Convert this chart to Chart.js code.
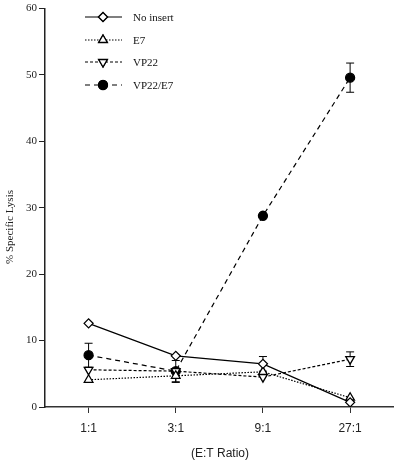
<!DOCTYPE html>
<html>
<head>
<meta charset="utf-8">
<script src="https://cdn.jsdelivr.net/npm/chart.js@4.4.1/dist/chart.umd.min.js"></script>
<style>
html,body{margin:0;padding:0;background:#fff;}
#wrap{width:400px;height:465px;position:relative;}
</style>
</head>
<body>
<div id="wrap"><canvas id="c" width="400" height="465"></canvas></div>
<script>
const categories = ["1:1", "3:1", "9:1", "27:1"];
const seriesNames = ["No insert", "E7", "VP22", "VP22/E7"];
const noInsert = [12.6, 7.7, 6.5, 0.7];
const e7 = [4.1, 4.7, 5.3, 1.4];
const vp22 = [5.6, 5.4, 4.5, 7.2];
const vp22e7 = [7.8, 5.4, 28.8, 49.6];
const noInsertErr = [0, 0, 1.1, 0];
const e7Err = [0, 1.0, 0, 0];
const vp22Err = [0, 0, 0, 1.1];
const vp22e7Err = [1.8, 1.6, 0, 2.2];
const yTicks = [0, 10, 20, 30, 40, 50, 60];
const xTitle = "(E:T Ratio)";
const yTitle = "% Specific Lysis";

const serif = "'Liberation Serif', 'DejaVu Serif', serif";
const sans = "'Liberation Sans', Arial, sans-serif";

const errorBars = {
  id: 'errorBars',
  beforeDatasetsDraw(chart) {
    const ctx = chart.ctx, ys = chart.scales.y, xs = chart.scales.x;
    ctx.save();
    ctx.strokeStyle = '#000';
    ctx.lineWidth = 1;
    chart.data.datasets.forEach(ds => {
      (ds.errors || []).forEach((e, i) => {
        if (!e) return;
        const x = xs.getPixelForValue(i);
        const yt = ys.getPixelForValue(ds.data[i] + e);
        const yb = ys.getPixelForValue(ds.data[i] - e);
        ctx.beginPath();
        ctx.moveTo(x, yt); ctx.lineTo(x, yb);
        ctx.moveTo(x - 4, yt); ctx.lineTo(x + 4, yt);
        ctx.moveTo(x - 4, yb); ctx.lineTo(x + 4, yb);
        ctx.stroke();
      });
    });
    ctx.restore();
  }
};

const customLegend = {
  id: 'customLegend',
  afterDraw(chart) {
    const ctx = chart.ctx;
    const ys = [17, 40, 62, 85];
    ctx.save();
    chart.data.datasets.forEach((ds, k) => {
      const y = ys[k];
      ctx.strokeStyle = '#000';
      ctx.lineWidth = ds.borderWidth;
      ctx.setLineDash(ds.borderDash || []);
      ctx.beginPath();
      ctx.moveTo(85, y); ctx.lineTo(122, y);
      ctx.stroke();
      ctx.setLineDash([]);
      Chart.helpers.drawPoint(ctx, {
        pointStyle: ds.pointStyle,
        rotation: ds.pointRotation || 0,
        radius: ds.pointRadius,
        borderWidth: ds.pointBorderWidth
      }, 103, y);
      ctx.fillStyle = ds.pointBackgroundColor;
      ctx.strokeStyle = '#000';
      ctx.lineWidth = ds.pointBorderWidth;
      ctx.fill();
      ctx.stroke();
      ctx.fillStyle = '#111';
      ctx.font = "11px " + serif;
      ctx.textBaseline = 'middle';
      ctx.textAlign = 'left';
      ctx.fillText(ds.label, 133, y + 1);
    });
    // y title
    ctx.save();
    ctx.translate(10, 227);
    ctx.rotate(-Math.PI / 2);
    ctx.font = "11px " + serif;
    ctx.fillStyle = '#222';
    ctx.textAlign = 'center';
    ctx.textBaseline = 'middle';
    ctx.fillText(yTitle, 0, 0);
    ctx.restore();
    // x title
    ctx.font = "12px " + sans;
    ctx.fillStyle = '#222';
    ctx.textAlign = 'center';
    ctx.textBaseline = 'middle';
    ctx.fillText(xTitle, 220, 454);
    ctx.restore();
  }
};

function mk(label, data, errors, style, rot, fill, dash, radius) {
  return {
    label, data, errors,
    borderColor: '#000', borderWidth: 1.2, borderDash: dash,
    pointStyle: style, pointRotation: rot, pointRadius: radius,
    pointBackgroundColor: fill, pointBorderColor: '#000', pointBorderWidth: 1.3,
    pointHoverRadius: radius, fill: false, tension: 0
  };
}

new Chart(document.getElementById('c'), {
  type: 'line',
  data: {
    labels: categories,
    datasets: [
      mk(seriesNames[0], noInsert, noInsertErr, 'rectRot', 0, '#fff', [], 4.5),
      mk(seriesNames[1], e7, e7Err, 'triangle', 0, '#fff', [1.5, 1.5], 5),
      mk(seriesNames[2], vp22, vp22Err, 'triangle', 180, '#fff', [3, 2], 5),
      mk(seriesNames[3], vp22e7, vp22e7Err, 'circle', 0, '#000', [5, 4], 4.5)
    ]
  },
  options: {
    responsive: false,
    animation: false,
    events: [],
    layout: { padding: { top: 6, right: 4, left: 0, bottom: 0 } },
    plugins: { legend: { display: false }, tooltip: { enabled: false } },
    scales: {
      x: {
        type: 'category',
        offset: true,
        grid: { display: true, drawOnChartArea: false, offset: false, tickLength: 6, color: '#333', lineWidth: 1 },
        border: { color: '#333', width: 1.5 },
        ticks: { color: '#222', font: { family: sans, size: 12 }, padding: 8, maxRotation: 0 },
        afterFit(s) { s.height = 58; }
      },
      y: {
        min: 0, max: 60,
        afterBuildTicks(s) { s.ticks = yTicks.map(v => ({ value: v })); },
        grid: { display: true, drawOnChartArea: false, tickLength: 6, color: '#222', lineWidth: 1 },
        border: { color: '#222', width: 1.5 },
        ticks: { color: '#222', font: { family: serif, size: 11 }, padding: 2 },
        afterFit(s) { s.width = 45; }
      }
    }
  },
  plugins: [errorBars, customLegend]
});
</script>
</body>
</html>
